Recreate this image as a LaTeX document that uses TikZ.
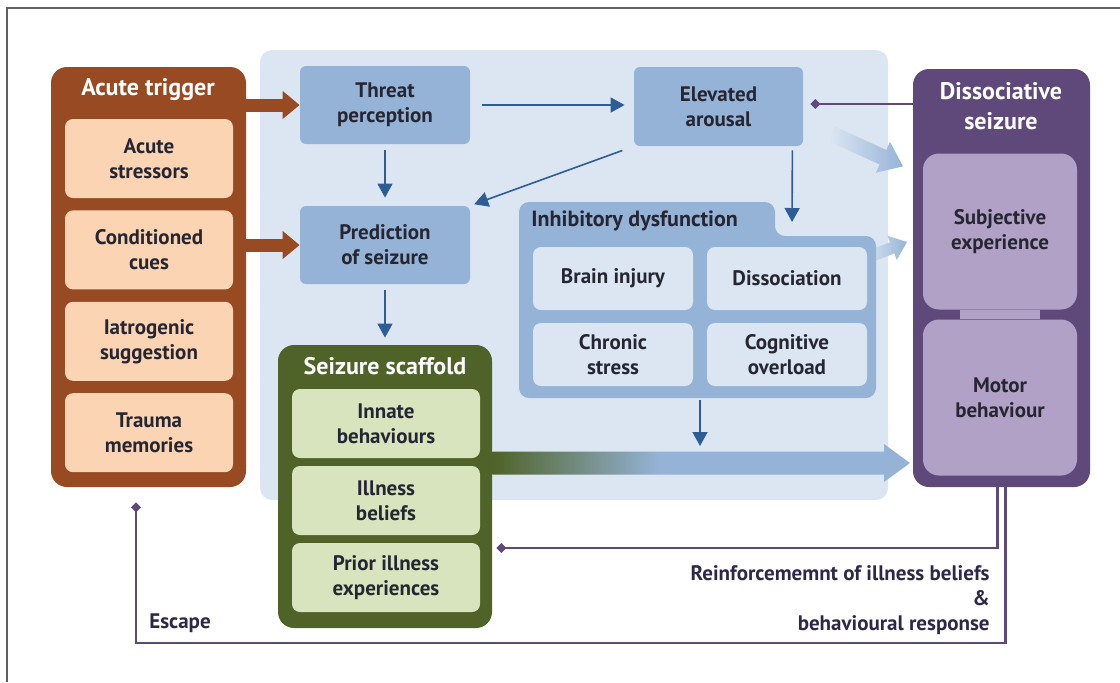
\documentclass[tikz,border=0pt]{standalone}
\usepackage{fontspec}
\setmainfont{PT Sans}
\usepackage{tikz}
\usetikzlibrary{arrows.meta, positioning, shadings}

\definecolor{trigbrown}{HTML}{984A22}
\definecolor{peach}{HTML}{FBD4B4}
\definecolor{bgblue}{HTML}{DCE6F2}
\definecolor{boxblue}{HTML}{95B3D7}
\definecolor{arrowblue}{HTML}{2E5C94}
\definecolor{scafgreen}{HTML}{4F6228}
\definecolor{paleg}{HTML}{D7E4BD}
\definecolor{seizpurple}{HTML}{5F497A}
\definecolor{lilac}{HTML}{B2A1C7}
\definecolor{ink}{HTML}{262633}
\definecolor{loopink}{HTML}{2F2747}
\definecolor{framegrey}{HTML}{606060}

\pgfdeclarehorizontalshading{scafflow}{100bp}{color(0bp)=(scafgreen); color(25bp)=(scafgreen); color(45bp)=(boxblue); color(100bp)=(boxblue)}

\begin{document}
\begin{tikzpicture}[x=0.5pt, y=-0.5pt, node distance={45.7pt},
    txt/.style={text=ink, font=\bfseries\fontsize{10.5}{12.5}\selectfont, align=center, inner sep=2pt},
    headtxt/.style={text=white, font=\bfseries\fontsize{12}{15}\selectfont, align=center},
    peachbox/.style={txt, fill=peach, rounded corners=4pt, minimum width=84pt, minimum height=39.5pt},
    bluebox/.style={txt, fill=boxblue, rounded corners=3pt, minimum width=85pt, minimum height=39pt},
    inbox/.style={txt, fill=bgblue, rounded corners=4pt, minimum width=80pt, minimum height=31.5pt},
    greenbox/.style={txt, fill=paleg, rounded corners=4pt, minimum width=94pt, minimum height=34.5pt},
    lilacbox/.style={txt, fill=lilac, rounded corners=8pt, minimum width=77pt, minimum height=78pt},
    flow/.style={arrowblue, line width=0.8pt, -{Triangle[length=7pt, width=7.5pt]}},
    push/.style={draw=trigbrown, line width=6.5pt, -{Triangle[length=8.5pt, width=13.5pt]}},
    backlink/.style={draw=seizpurple, line width=1.4pt, -{Diamond[length=5pt, width=5pt]}}]
    \useasboundingbox (0,0) rectangle (1120,682);
    \draw[framegrey, line width=1pt] (7,682) -- (7,8) -- (1120,8);

    \fill[bgblue, rounded corners=6pt] (260,50) rectangle (888,500);

    % faded arrows into the seizure
    \begin{scope}[shift={(832,134)}, rotate=-24.5]
        \shade[left color=bgblue, right color=boxblue] (0,-8) -- (56,-8) -- (56,-17) -- (78,0) -- (56,17) -- (56,8) -- (0,8) -- cycle;
    \end{scope}
    \begin{scope}[shift={(866,258)}, rotate=21.3]
        \shade[left color=bgblue, right color=boxblue] (0,-6) -- (28,-6) -- (28,-13) -- (44,0) -- (28,13) -- (28,6) -- (0,6) -- cycle;
    \end{scope}

    \node[fill=trigbrown, rounded corners=8pt, minimum width=97.5pt, minimum height=210pt] (trig) at (148.5,277) {};
    \node[headtxt] (trigT) at (148,90) {Acute trigger};
    \node[peachbox] (acute) at (149,158.5) {Acute\\stressors};
    \node[peachbox] (cond) [below of=acute] {Conditioned\\cues};
    \node[peachbox] (iatro) [below of=cond] {Iatrogenic\\suggestion};
    \node[peachbox] (trauma) [below of=iatro] {Trauma\\memories};

    \node[bluebox] (thr) at (385,105) {Threat\\perception};
    \node[bluebox] (pred) [below of=thr, node distance=70pt] {Prediction\\of seizure};
    \node[bluebox, minimum width=84.5pt, minimum height=39.5pt] (elev) at (718.5,106.5) {Elevated\\arousal};

    % inhibitory dysfunction
    \fill[boxblue, rounded corners=5pt] (519,202) -- (775,202) -- (775,236) -- (876,236) -- (876,398) -- (519,398) -- cycle;
    \node[txt, anchor=west, font=\bfseries\fontsize{11}{13}\selectfont] (inhT) at (527,221) {Inhibitory dysfunction};
    \node[inbox] (brain) at (613,278.5) {Brain injury};
    \node[inbox] (dissoc) [right of=brain, node distance=87pt] {Dissociation};
    \node[inbox] (chron) [below of=brain, node distance=38pt] {Chronic\\stress};
    \node[inbox] (cogn) [below of=dissoc, node distance=38pt] {Cognitive\\overload};
    \coordinate (inhtop) at (792,236);
    \coordinate (inhbot) at (700,398);

    \node[fill=scafgreen, rounded corners=8pt, minimum width=107pt, minimum height=141.5pt] (scaf) at (385,486.5) {};
    \node[headtxt] (scafT) at (385,366) {Seizure scaffold};
    \node[greenbox] (innate) at (386,423.5) {Innate\\behaviours};
    \node[greenbox] (belief) [below of=innate, node distance=38.5pt] {Illness\\beliefs};
    \node[greenbox] (prior) [below of=belief, node distance=38.5pt] {Prior illness\\experiences};

    \node[fill=seizpurple, rounded corners=8pt, minimum width=88.5pt, minimum height=209pt] (diss) at (1001.5,278) {};
    \node[headtxt] (dissT) at (1001,106) {Dissociative\\seizure};
    \node[lilacbox] (subj) at (1000,231.5) {Subjective\\experience};
    \node[lilacbox] (motor) [below of=subj, node distance=83pt] {Motor\\behaviour};
    \fill[lilac] ([xshift=-20pt]subj.south) rectangle ([xshift=20pt]motor.north);

    % scaffold into the seizure
    \shade[shading=scafflow] (scaf.east |- 0,451.5) -- (884,451.5) -- (884,444) -- (910,463) -- (884,482) -- (884,474.5) -- (scaf.east |- 0,474.5) -- cycle;

    \draw[push] (trig.east |- thr.west) -- (thr.west);
    \draw[push] (trig.east |- pred.west) -- (pred.west);

    \path[flow, shorten <=6pt, shorten >=4.5pt] (thr.east) edge (elev.west |- thr.east);
    \path[flow, shorten <=3pt, shorten >=4pt] (thr.south) edge (pred.north);
    \path[flow, shorten <=6pt, shorten >=2pt] (elev.south west) edge (pred.north east);
    \path[flow, shorten <=2pt, shorten >=7pt] ([xshift=-5.5pt]elev.south east) edge (inhtop);
    \path[flow, shorten <=3pt, shorten >=3.5pt] (pred.south) edge (scaf.north);
    \path[flow, shorten <=1pt, shorten >=3pt] (inhbot) edge (inhbot |- 0,452);

    % loops back from the seizure
    \coordinate (reinY) at (0,548);
    \coordinate (escY) at (0,643);
    \draw[backlink, shorten >=3.5pt] (diss.west |- 0,104) -- (elev.east |- 0,104);
    \draw[backlink, shorten >=2pt] ([xshift=-2pt]diss.south) |- (scaf.east |- reinY);
    \draw[backlink, shorten >=7.5pt] ([xshift=2pt]diss.south) |- ([xshift=-6.25pt]trig.south |- escY) -- ([xshift=-6.25pt]trig.south);

    \node[txt, text=loopink, align=right, anchor=north east] (reinT) at (994,561) {Reinforcememnt of illness beliefs\\\&\\behavioural response};
    \node[txt, text=loopink, anchor=west] (escT) at (145,623) {Escape};
\end{tikzpicture}
\end{document}
